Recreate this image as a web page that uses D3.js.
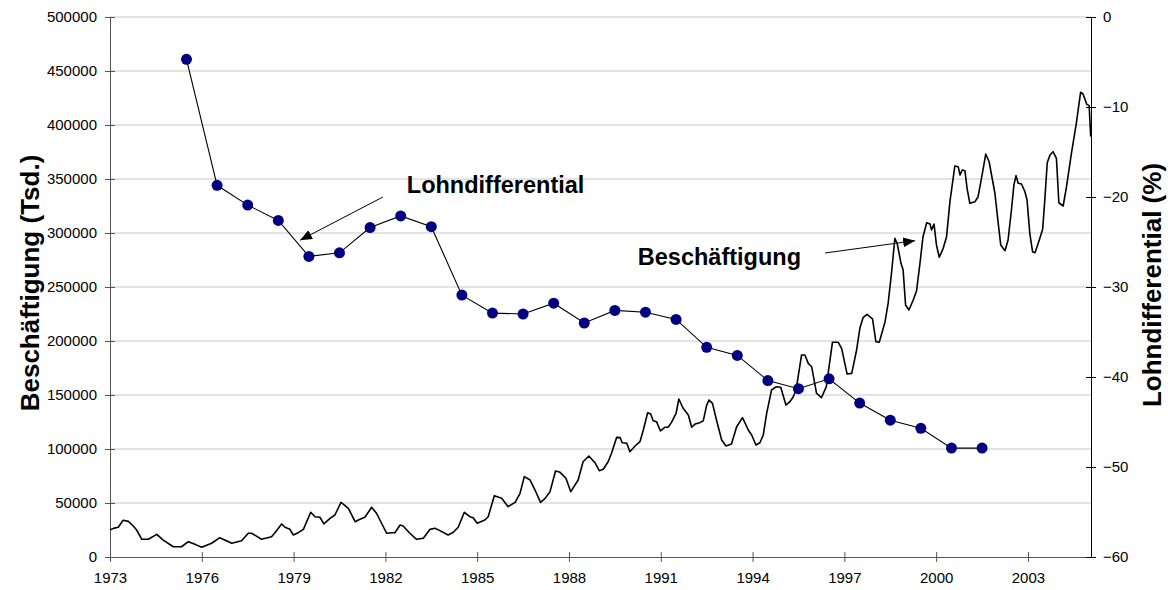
<!doctype html>
<html lang="de">
<head>
<meta charset="utf-8">
<script src="https://cdnjs.cloudflare.com/ajax/libs/d3/7.8.5/d3.min.js"></script>
<style>
  body { margin: 0; background: #fff; font-family: 'Liberation Sans', Arial, sans-serif; }
  .tick text { font-family: 'Liberation Sans', Arial, sans-serif; font-size: 15px; fill: #000; }
  .grid line { stroke: #c8c8c8; }
  .annot { font-weight: bold; font-size: 23.5px; }
  .axis-title { font-weight: bold; font-size: 26px; }
</style>
</head>
<body>
<script>
// Beschaeftigung (left axis): decimal year / persons
const empYears = [
  1973.00, 1973.11, 1973.27, 1973.43, 1973.60, 1973.76, 1973.87, 1974.04, 1974.25, 1974.53,
  1974.74, 1975.07, 1975.34, 1975.56, 1975.78, 1976.00, 1976.32, 1976.59, 1976.98, 1977.30,
  1977.52, 1977.63, 1977.95, 1978.28, 1978.39, 1978.61, 1978.72, 1978.88, 1978.99, 1979.15,
  1979.32, 1979.56, 1979.70, 1979.86, 1979.99, 1980.19, 1980.35, 1980.55, 1980.79, 1981.01,
  1981.17, 1981.33, 1981.55, 1981.71, 1982.04, 1982.20, 1982.31, 1982.48, 1982.58, 1982.80,
  1983.02, 1983.24, 1983.46, 1983.62, 1983.78, 1984.05, 1984.22, 1984.38, 1984.58, 1984.76,
  1984.87, 1985.00, 1985.25, 1985.36, 1985.56, 1985.80, 1986.01, 1986.24, 1986.40, 1986.54,
  1986.73, 1986.89, 1987.07, 1987.22, 1987.38, 1987.56, 1987.71, 1987.90, 1988.06, 1988.30,
  1988.46, 1988.65, 1988.85, 1988.99, 1989.12, 1989.28, 1989.39, 1989.56, 1989.67, 1989.74,
  1989.89, 1989.99, 1990.16, 1990.32, 1990.43, 1990.57, 1990.67, 1990.75, 1990.86, 1990.99,
  1991.13, 1991.24, 1991.35, 1991.50, 1991.59, 1991.73, 1991.90, 1992.01, 1992.12, 1992.28,
  1992.39, 1992.50, 1992.58, 1992.69, 1992.82, 1992.99, 1993.13, 1993.31, 1993.48, 1993.67,
  1993.86, 1993.97, 1994.11, 1994.24, 1994.35, 1994.46, 1994.62, 1994.78, 1994.92, 1995.09,
  1995.22, 1995.33, 1995.42, 1995.60, 1995.71, 1995.82, 1995.93, 1996.09, 1996.25, 1996.41,
  1996.50, 1996.61, 1996.80, 1996.91, 1997.09, 1997.24, 1997.40, 1997.51, 1997.61, 1997.74,
  1997.92, 1998.03, 1998.14, 1998.33, 1998.43, 1998.54, 1998.65, 1998.73, 1998.85, 1998.92,
  1999.00, 1999.11, 1999.25, 1999.36, 1999.47, 1999.57, 1999.69, 1999.80, 1999.85, 1999.93,
  2000.01, 2000.10, 2000.23, 2000.34, 2000.45, 2000.61, 2000.72, 2000.78, 2000.85, 2000.94,
  2001.01, 2001.10, 2001.27, 2001.37, 2001.52, 2001.62, 2001.73, 2001.81, 2001.92, 2002.01,
  2002.11, 2002.25, 2002.35, 2002.46, 2002.54, 2002.61, 2002.68, 2002.79, 2002.90, 2002.97,
  2003.06, 2003.15, 2003.23, 2003.37, 2003.48, 2003.55, 2003.63, 2003.72, 2003.82, 2003.93,
  2004.01, 2004.15, 2004.26, 2004.42, 2004.58, 2004.72, 2004.80, 2004.92, 2005.00, 2005.05
];
const empValues = [
  25000, 26500, 27500, 34000, 33000, 28700, 25000, 16400, 16400, 21000,
  15700, 9500, 9500, 14200, 11700, 9000, 12700, 17900, 12700, 15000,
  22000, 22000, 16400, 18800, 22500, 30600, 27500, 25600, 20400, 22500,
  25600, 41400, 37300, 36800, 30600, 35800, 38900, 50600, 45100, 32700,
  34900, 36800, 46000, 40500, 22000, 22500, 22500, 29600, 28700, 22000,
  16400, 17300, 25600, 26600, 24400, 20400, 22900, 27500, 41400, 37300,
  36400, 31200, 34300, 37300, 56800, 54300, 46600, 50600, 59000, 74400,
  71300, 62000, 50600, 54300, 60500, 79600, 78400, 72900, 60500, 71300,
  88200, 93500, 87300, 79900, 81200, 88200, 96000, 110800, 110500, 105800,
  105300, 97500, 102800, 106800, 117600, 133600, 132400, 126200, 125300, 116700,
  120100, 120100, 124700, 133000, 146300, 137700, 131500, 120100, 123100, 124400,
  126200, 140700, 145400, 142300, 126900, 108300, 102800, 104600, 120600, 129000,
  117600, 113000, 103700, 105800, 113000, 133000, 154600, 157700, 157100, 140700,
  143800, 148400, 154600, 187000, 187000, 179300, 176200, 151600, 147500, 157700,
  176200, 198800, 198800, 193200, 169400, 170000, 191700, 212300, 221600, 224700,
  220400, 199400, 198800, 217900, 234900, 262700, 295100, 289800, 271900, 265700,
  233300, 228700, 238000, 246600, 271900, 296600, 309500, 308300, 302800, 308300,
  288900, 277500, 285800, 296600, 329000, 362000, 361400, 353700, 358300, 357700,
  341400, 327500, 329000, 333600, 356800, 373100, 366000, 353700, 336800, 313600,
  288900, 283600, 293500, 321300, 344400, 353100, 346000, 345400, 338200, 330600,
  299700, 282700, 281800, 293500, 303400, 330600, 365100, 372200, 375300, 369200,
  328000, 325000, 342900, 373800, 401600, 430300, 428700, 419200, 417900, 389200
];

// Lohndifferential (right axis, %), yearly, plotted mid-year
const wageYears = [1975, 1976, 1977, 1978, 1979, 1980, 1981, 1982, 1983, 1984, 1985, 1986, 1987,
  1988, 1989, 1990, 1991, 1992, 1993, 1994, 1995, 1996, 1997, 1998, 1999, 2000, 2001];
const wageValues = [-4.7, -18.7, -20.9, -22.6, -26.6, -26.2, -23.4, -22.1, -23.3, -30.9, -32.9, -33.0, -31.8,
  -34.0, -32.6, -32.8, -33.6, -36.7, -37.6, -40.4, -41.3, -40.2, -42.9, -44.8, -45.7, -47.9, -47.9];

// tick labels
const xTicks = [1973, 1976, 1979, 1982, 1985, 1988, 1991, 1994, 1997, 2000, 2003];
const leftTicks = [0, 50000, 100000, 150000, 200000, 250000, 300000, 350000, 400000, 450000, 500000];
const rightTicks = [-60, -50, -40, -30, -20, -10, 0];

const w = 1168, h = 590;
const margin = {left: 110, right: 77, top: 17, bottom: 33};

const x = d3.scaleLinear().domain([1973, 2005.06]).range([margin.left, w - margin.right]);
const yL = d3.scaleLinear().domain([0, 500000]).range([h - margin.bottom, margin.top]);
const yR = d3.scaleLinear().domain([-60, 0]).range([h - margin.bottom, margin.top]);

const svg = d3.select("body").append("svg").attr("width", w).attr("height", h);

svg.append("defs").append("marker")
  .attr("id", "arrow")
  .attr("viewBox", "0 0 12 10")
  .attr("refX", 12).attr("refY", 5)
  .attr("markerWidth", 12).attr("markerHeight", 10)
  .attr("markerUnits", "userSpaceOnUse")
  .attr("orient", "auto")
  .append("path").attr("d", "M0,0 L12,5 L0,10 Z").attr("fill", "#000");

// gridlines
svg.append("g").attr("class", "grid")
  .selectAll("line")
  .data(leftTicks.filter(d => d > 0))
  .enter().append("line")
  .attr("x1", margin.left).attr("x2", w - margin.right)
  .attr("y1", d => yL(d)).attr("y2", d => yL(d));

// axes
const xAxis = svg.append("g")
  .attr("transform", "translate(0," + (h - margin.bottom) + ")")
  .call(d3.axisBottom(x).tickValues(xTicks).tickFormat(d3.format("d")).tickSizeInner(5).tickSizeOuter(0));
xAxis.selectAll(".tick line").attr("y1", -5);
xAxis.selectAll(".tick text").attr("dy", "1.2em");
xAxis.selectAll("path, line").attr("stroke", "#555");

const leftAxis = svg.append("g")
  .attr("transform", "translate(" + margin.left + ",0)")
  .call(d3.axisLeft(yL).tickValues(leftTicks).tickFormat(d3.format("d")).tickSizeInner(5).tickSizeOuter(0));
leftAxis.selectAll(".tick line").attr("x1", 5);
leftAxis.selectAll(".tick text").attr("x", -13);
leftAxis.selectAll("path, line").attr("stroke", "#555");

const rightAxis = svg.append("g")
  .attr("transform", "translate(" + (w - margin.right) + ",0)")
  .call(d3.axisRight(yR).tickValues(rightTicks).tickFormat(d3.format("d")).tickSizeInner(5).tickSizeOuter(0));
rightAxis.selectAll(".tick line").attr("x1", -5);
rightAxis.selectAll(".tick text").attr("x", 12);
rightAxis.selectAll("path, line").attr("stroke", "#000");

// Beschaeftigung line
const empData = empYears.map((d, i) => [d, empValues[i]]);
svg.append("path")
  .datum(empData)
  .attr("fill", "none")
  .attr("stroke", "#000")
  .attr("stroke-width", 1.6)
  .attr("stroke-linejoin", "round")
  .attr("d", d3.line().x(d => x(d[0])).y(d => yL(d[1])));

// Lohndifferential line + dots
const wageData = wageYears.map((d, i) => [d + 0.5, wageValues[i]]);
svg.append("path")
  .datum(wageData)
  .attr("fill", "none")
  .attr("stroke", "#000")
  .attr("stroke-width", 1.1)
  .attr("d", d3.line().x(d => x(d[0])).y(d => yR(d[1])));

svg.selectAll("circle.wage")
  .data(wageData)
  .enter().append("circle")
  .attr("class", "wage")
  .attr("cx", d => x(d[0]))
  .attr("cy", d => yR(d[1]))
  .attr("r", 5.5)
  .attr("fill", "#000080");

// annotations
svg.append("text").attr("class", "annot")
  .attr("x", x(1982.7)).attr("y", yR(-19.6))
  .text("Lohndifferential");
svg.append("line")
  .attr("x1", x(1981.92)).attr("y1", yR(-20.0))
  .attr("x2", x(1979.21)).attr("y2", yR(-24.8))
  .attr("stroke", "#000").attr("stroke-width", 1)
  .attr("marker-end", "url(#arrow)");

svg.append("text").attr("class", "annot")
  .attr("x", x(1990.25)).attr("y", yL(270000))
  .text("Beschäftigung");
svg.append("line")
  .attr("x1", x(1996.37)).attr("y1", yL(281500))
  .attr("x2", x(1999.31)).attr("y2", yL(292900))
  .attr("stroke", "#000").attr("stroke-width", 1)
  .attr("marker-end", "url(#arrow)");

// axis titles
svg.append("text").attr("class", "axis-title")
  .attr("transform", "translate(39,283) rotate(-90)")
  .attr("text-anchor", "middle")
  .text("Beschäftigung (Tsd.)");

svg.append("text").attr("class", "axis-title")
  .attr("transform", "translate(1161,285) rotate(-90)")
  .attr("text-anchor", "middle")
  .text("Lohndifferential (%)");
</script>
</body>
</html>
